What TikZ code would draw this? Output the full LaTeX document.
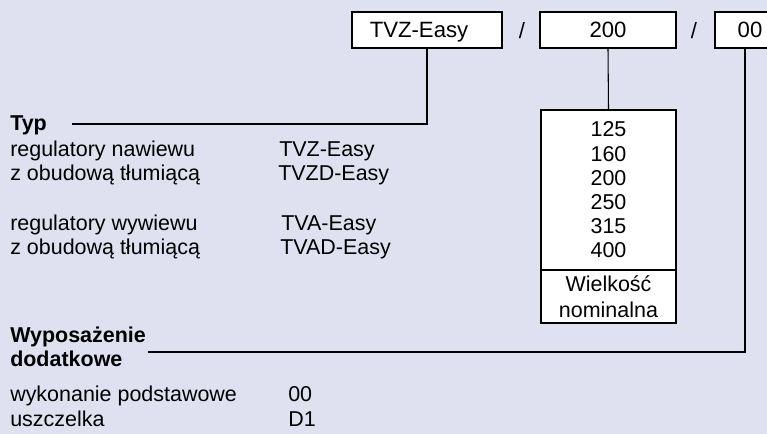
\documentclass[tikz,border=0pt]{standalone}
\usepackage{fontspec}
\setmainfont{Liberation Sans}
\definecolor{bgc}{RGB}{223,225,240}
\begin{document}
\begin{tikzpicture}[x=0.75pt,y=-0.75pt,
  every node/.style={font=\fontsize{16.1}{18}\selectfont, inner sep=0pt},
  codebox/.style={draw=black, fill=white, line width=0.8pt, minimum height=27pt, text depth=0pt, font=\fontsize{16.6}{18}\selectfont},
  lbl/.style={anchor=base west},
  conn/.style={draw=black, line width=0.8pt}]
\fill[bgc] (0,0) rectangle (767,434);
\useasboundingbox (0,0) rectangle (767,434);
\clip (0,0) rectangle (767,434);
% top code boxes
\node[codebox, minimum width=112.5pt] (tvz) at (427,30) {\hspace*{-12pt}TVZ-Easy};
\node[font=\fontsize{16.6}{18}\selectfont, text depth=0pt] (s1) at (522,30) {/};
\node[codebox, minimum width=102pt] (dn) at (608,30) {200};
\node[font=\fontsize{16.6}{18}\selectfont, text depth=0pt] (s2) at (694,30) {/};
\node[codebox, minimum width=52.5pt, text width=52.5pt, align=center] (acc) at (750,30) {00};
% size box
\node[draw=black, fill=white, line width=0.8pt, minimum width=101.25pt, minimum height=120pt,
      align=center, font=\fontsize{16.1}{18.15}\selectfont] (sizes) at (608.5,190)
  {125\\160\\200\\250\\315\\400};
\node[draw=black, fill=white, line width=0.8pt, minimum width=101.25pt, minimum height=39.75pt,
      align=center, font=\fontsize{16.1}{19.5}\selectfont] (wn) at (608.5,296.5)
  {Wielkość\\nominalna};
% Typ section
\node[lbl, font=\fontsize{16.1}{18}\bfseries] (typ) at (10,131) {Typ};
\coordinate (typend) at (72,124);
\node[lbl] (r1) at (10,157) {regulatory nawiewu};
\node[lbl] (r2) at (10,181) {z obudową tłumiącą};
\node[lbl] (r3) at (10,231) {regulatory wywiewu};
\node[lbl] (r4) at (10,255) {z obudową tłumiącą};
\node[lbl] (c1) at (279,157) {TVZ-Easy};
\node[lbl] (c2) at (278,181) {TVZD-Easy};
\node[lbl] (c3) at (281,231) {TVA-Easy};
\node[lbl] (c4) at (280,255) {TVAD-Easy};
% accessories
\node[lbl, font=\fontsize{16.1}{18}\bfseries] (wyp) at (10,342.5) {Wyposażenie};
\node[lbl, font=\fontsize{16.1}{18}\bfseries] (dod) at (10,366.5) {dodatkowe};
\coordinate (wypend) at (148,352);
\node[lbl] (a1) at (10,402) {wykonanie podstawowe};
\node[lbl] (a2) at (10,426) {uszczelka};
\node[lbl] (v1) at (288,402) {00};
\node[lbl] (v2) at (288,426) {D1};
% connectors
\draw[conn] (tvz.south) |- (typend);
\draw[conn] (dn.south) -- (sizes.north);
\draw[conn] ([xshift=-3.75pt]acc.south) |- (wypend);
\end{tikzpicture}
\end{document}
